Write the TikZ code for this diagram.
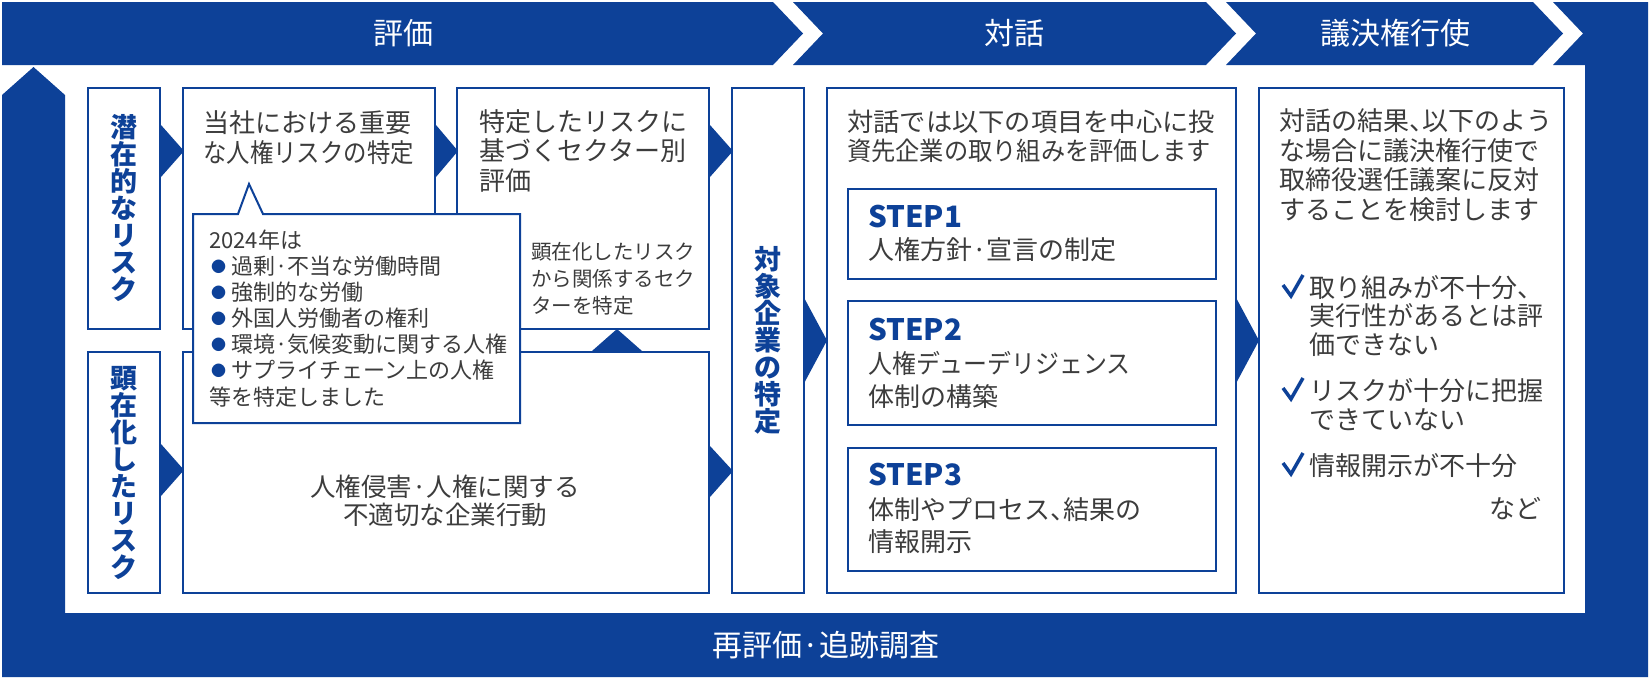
\documentclass[tikz,border=0pt]{standalone}
\usepackage{fontspec}
\usepackage{graphicx}
\setmainfont{Noto Sans CJK JP}
\usetikzlibrary{calc}
\definecolor{jblue}{RGB}{13,65,152}
\definecolor{tgray}{RGB}{60,60,60}
\newcommand\sx[2]{\scalebox{#1}[1]{#2}}
\newcommand\tc{\makebox[0.5em][l]{、}}
\newcommand\bl{\makebox[22pt][l]{\hspace{2pt}\raisebox{2pt}{\fontsize{15}{15}\selectfont\color{jblue}●}}}
\begin{document}
\begin{tikzpicture}[x=1pt,y=-1pt,
 box/.style={draw=jblue,line width=2pt,fill=white,inner sep=0,anchor=north west},
 body/.style={font=\fontsize{26}{30}\selectfont,text=tgray,inner sep=0,align=left,anchor=base west},
 vtext/.style={font=\bfseries\fontsize{27}{27}\selectfont,text=jblue,align=center,inner sep=0},
 band/.style={font=\fontsize{30}{30}\selectfont,text=white,inner sep=0},
 steptitle/.style={font=\bfseries\fontsize{29.5}{29.5}\selectfont,text=jblue,inner sep=0,anchor=base west},
 check/.style={draw=jblue,line width=3.5pt,line join=miter}]
\useasboundingbox (0,0) rectangle (1650,680);
\fill[white] (0,0) rectangle (1650,680);
% top band chevrons and frame
\fill[jblue] (2,2) -- (773,2) -- (803,33.5) -- (773,65) -- (2,65) -- cycle;
\fill[jblue] (793,2) -- (1206,2) -- (1236,33.5) -- (1206,65) -- (793,65) -- (823,33.5) -- cycle;
\fill[jblue] (1226,2) -- (1533,2) -- (1563,33.5) -- (1533,65) -- (1226,65) -- (1256,33.5) -- cycle;
\fill[jblue] (1553,2) -- (1648,2) -- (1648,677) -- (2,677) -- (2,95) -- (33.5,67) -- (65,95)
  -- (65,613) -- (1585,613) -- (1585,65) -- (1553,65) -- (1583,33.5) -- cycle;
\node[band] (t1) at (403,33.5) {評価};
\node[band] (t2) at (1014,33.5) {対話};
\node[band] (t3) at (1395,33.5) {議決権行使};
\node[band] (t4) at (826,645) {再評価·追跡調査};
% boxes
\node[box,minimum width=72,minimum height=241] (A) at (87,87) {};
\node[box,minimum width=72,minimum height=241] (B) at (87,351) {};
\node[box,minimum width=252,minimum height=241] (C) at (182,87) {};
\node[box,minimum width=252,minimum height=241] (D) at (456,87) {};
\node[box,minimum width=526,minimum height=241] (E) at (182,351) {};
\node[box,minimum width=72,minimum height=505] (G) at (731,87) {};
\node[box,minimum width=409,minimum height=505] (H) at (826,87) {};
\node[box,minimum width=368,minimum height=90] (S1) at (847,188) {};
\node[box,minimum width=368,minimum height=124] (S2) at (847,300) {};
\node[box,minimum width=368,minimum height=123] (S3) at (847,447) {};
\node[box,minimum width=305,minimum height=505] (I) at (1258,87) {};
% triangle arrows
\fill[jblue] ($(A.north east)+(0,38)$) -- ($(A.north east)+(23,64)$) -- ($(A.north east)+(0,90)$) -- cycle;
\fill[jblue] ($(C.north east)+(0,38)$) -- ($(C.north east)+(22,64)$) -- ($(C.north east)+(0,90)$) -- cycle;
\fill[jblue] ($(D.north east)+(0,38)$) -- ($(D.north east)+(23,64)$) -- ($(D.north east)+(0,90)$) -- cycle;
\fill[jblue] ($(B.north east)+(0,93)$) -- ($(B.north east)+(23,119)$) -- ($(B.north east)+(0,145)$) -- cycle;
\fill[jblue] ($(E.north east)+(0,95)$) -- ($(E.north east)+(23,120)$) -- ($(E.north east)+(0,146)$) -- cycle;
\fill[jblue] ($(G.east)+(0,-41)$) -- ($(G.east)+(22,0)$) -- ($(G.east)+(0,41)$) -- cycle;
\fill[jblue] ($(H.east)+(0,-41)$) -- ($(H.east)+(22,0)$) -- ($(H.east)+(0,41)$) -- cycle;
\fill[jblue] ($(E.north west)+(410,0)$) -- ($(E.north west)+(435,-22)$) -- ($(E.north west)+(460,0)$) -- cycle;
% callout
\draw[jblue,line width=2pt,fill=white] (193,214) -- (238,214) -- (249,184) -- (263,214) -- (520,214)
  -- (520,423) -- (193,423) -- cycle;
% vertical labels
\node[vtext] (At) at (A.center) {潜\\在\\的\\な\\リ\\ス\\ク};
\node[vtext] (Bt) at (B.center) {顕\\在\\化\\し\\た\\リ\\ス\\ク};
\node[vtext] (Gt) at (G.center) {対\\象\\企\\業\\の\\特\\定};
% texts (base anchor = last line's baseline)
\node[body] (Ct) at (203,162) {当社における重要\\\sx{0.9}{な人権リスクの特定}};
\node[body,font=\fontsize{26}{29.2}\selectfont] (Dt) at (479,190.1) {特定したリスクに\\基づくセクター別\\評価};
\node[body,font=\fontsize{20.5}{26.7}\selectfont] (Dl) at (531,313.1) {顕在化したリスク\\から関係するセク\\ターを特定};
\node[body,font=\fontsize{22}{26.1}\selectfont] (Ft) at (209,405) {2024年は\\\bl 過剰·不当な労働時間\\\bl 強制的な労働\\\bl 外国人労働者の権利\\\bl 環境·気候変動に関する人権\\\bl サプライチェーン上の人権\\等を特定しました};
\node[font=\fontsize{25.5}{28.3}\selectfont,text=tgray,align=center,inner sep=0] (Et) at (445,501) {人権侵害·人権に関する\\不適切な企業行動};
\node[body,font=\fontsize{25.5}{28.3}\selectfont] (Ht) at (847,160) {\sx{1.03}{対話では以下の項目を中心に投}\\\sx{0.95}{資先企業の取り組みを評価します}};
\node[steptitle] (S1a) at (868,227) {STEP1};
\node[body] (S1b) at (868,259.5) {人権方針·宣言の制定};
\node[steptitle] (S2a) at (868,340) {STEP2};
\node[body,font=\fontsize{26}{33.4}\selectfont] (S2b) at (868,406.4) {\sx{0.92}{人権デューデリジェンス}\\体制の構築};
\node[steptitle] (S3a) at (868,485) {STEP3};
\node[body,font=\fontsize{26}{31.7}\selectfont] (S3b) at (868,551.2) {体制やプロセス\tc 結果の\\情報開示};
\node[body,font=\fontsize{26}{29.7}\selectfont] (It) at (1279,219.6) {対話の結果\tc 以下のよう\\な場合に議決権行使で\\取締役選任議案に反対\\することを検討します};
\node[body,font=\fontsize{26}{28.7}\selectfont] (K1) at (1309,354.4) {取り組みが不十分、\\実行性があるとは評\\価できない};
\node[body,font=\fontsize{26}{29.7}\selectfont] (K2) at (1309,429.7) {リスクが十分に把握\\できていない};
\node[body] (K3) at (1309,475) {情報開示が不十分};
\node[body,anchor=base east] (K4) at (1542,518.8) {など};
% check marks
\coordinate (ck1) at (1309,297);
\coordinate (ck2) at (1309,400);
\coordinate (ck3) at (1309,475);
\foreach \c in {ck1,ck2,ck3}{
  \draw[check] ($(\c)+(-26,-12)$) -- ($(\c)+(-18,-1)$) -- ($(\c)+(-6,-22)$);
}
\end{tikzpicture}
\end{document}
